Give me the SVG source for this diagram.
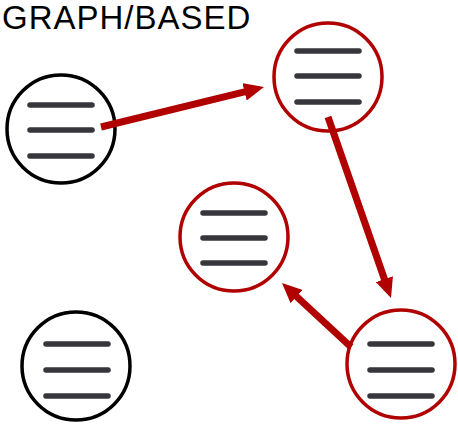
<svg xmlns="http://www.w3.org/2000/svg" width="458" height="424" viewBox="0 0 458 424">
<defs>
<style>
.title{font-family:"Liberation Sans",Arial,sans-serif;font-size:33px;letter-spacing:1px;fill:#000}
.nb{fill:#fff;stroke:#000;stroke-width:3.5}
.nr{fill:#fff;stroke:#b00000;stroke-width:3.5}
.bar{stroke:#36363c;stroke-width:5.5;stroke-linecap:round}
.edge{stroke:#b00000;stroke-width:7;fill:none}
</style>
<marker id="ah" viewBox="0 0 20 18" markerUnits="userSpaceOnUse" markerWidth="20" markerHeight="18" refX="2" refY="9" orient="auto">
<path d="M0,0 L20,9 L0,18 z" fill="#b00000"/>
</marker>
</defs>
<rect width="458" height="424" fill="#fff"/>
<text class="title" x="2" y="29">GRAPH/BASED</text>
<g id="n1"><circle class="nb" cx="61" cy="129" r="54"/><line class="bar" x1="30" y1="105" x2="92" y2="105"/><line class="bar" x1="30" y1="130" x2="92" y2="130"/><line class="bar" x1="30" y1="156" x2="92" y2="156"/></g>
<g id="n2"><circle class="nr" cx="328" cy="77" r="54"/><line class="bar" x1="297" y1="51" x2="359" y2="51"/><line class="bar" x1="297" y1="76" x2="359" y2="76"/><line class="bar" x1="297" y1="102" x2="359" y2="102"/></g>
<g id="n3"><circle class="nr" cx="234" cy="237" r="54"/><line class="bar" x1="203" y1="213" x2="265" y2="213"/><line class="bar" x1="203" y1="238" x2="265" y2="238"/><line class="bar" x1="203" y1="263" x2="265" y2="263"/></g>
<g id="n4"><circle class="nr" cx="401" cy="364" r="54"/><line class="bar" x1="370" y1="344" x2="432" y2="344"/><line class="bar" x1="370" y1="370" x2="432" y2="370"/><line class="bar" x1="370" y1="396" x2="432" y2="396"/></g>
<g id="n5"><circle class="nb" cx="76" cy="366" r="54"/><line class="bar" x1="46" y1="344" x2="108" y2="344"/><line class="bar" x1="46" y1="370" x2="108" y2="370"/><line class="bar" x1="46" y1="396" x2="108" y2="396"/></g>
<g id="edges">
<line class="edge" x1="101" y1="127" x2="246.5" y2="91.3" marker-end="url(#ah)"/>
<line class="edge" x1="328" y1="117" x2="385.1" y2="281" marker-end="url(#ah)"/>
<line class="edge" x1="351" y1="347" x2="295.2" y2="295.2" marker-end="url(#ah)"/>
</g>
</svg>
